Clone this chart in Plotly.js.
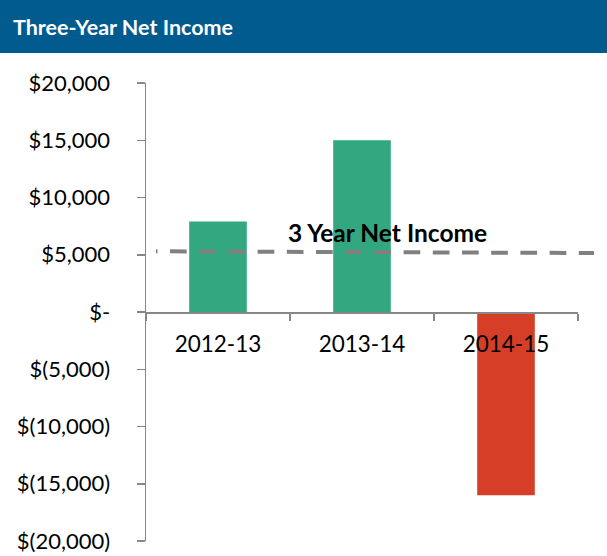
<!DOCTYPE html>
<html>
<head>
<meta charset="utf-8">
<script src="https://cdn.plot.ly/plotly-3.0.1.min.js"></script>
<style>html,body{margin:0;padding:0;background:#fff;}#chart{width:607px;height:556px;}</style>
</head>
<body>
<div id="chart"></div>
<script>
// Data
var years = ["2012-13", "2013-14", "2014-15"];
var netIncome = [7900, 15000, -16000];
var barColors = ["#33A880", "#33A880", "#D63E27"];
var avgX = [0, 1];
var avgY = [5300, 5150];
var avgLabel = "3 Year Net Income";
var yTickVals = [20000, 15000, 10000, 5000, 0, -5000, -10000, -15000, -20000];
var yTickText = ["$20,000", "$15,000", "$10,000", "$5,000", "$-", "$(5,000)", "$(10,000)", "$(15,000)", "$(20,000)"];
var chartTitle = "Three-Year Net Income";

// dash pattern: small dot, then repeating dashes
var dashParts = ["1.5px", "12.5px"];
for (var i = 0; i < 16; i++) { dashParts.push("16.7px", "12.5px"); }
var dashStr = dashParts.join(",");

var font = "Lato, 'Open Sans', sans-serif";

var traces = [
  {
    type: "bar",
    x: years,
    y: netIncome,
    marker: {color: barColors},
    xaxis: "x",
    yaxis: "y",
    hoverinfo: "none"
  },
  {
    type: "scatter",
    mode: "lines",
    x: avgX,
    y: avgY,
    line: {color: "#808080", width: 4, dash: dashStr},
    xaxis: "x2",
    yaxis: "y",
    hoverinfo: "none"
  }
];

var layout = {
  width: 607,
  height: 556,
  margin: {l: 146, r: 13, t: 83, b: 15},
  paper_bgcolor: "#ffffff",
  plot_bgcolor: "rgba(0,0,0,0)",
  showlegend: false,
  bargap: 0.6,
  font: {family: font, color: "#000000", size: 22},
  title: {
    text: "<b>" + chartTitle + "</b>",
    font: {family: font, color: "#ffffff", size: 21.5},
    x: 13 / 607, xanchor: "left", xref: "container",
    y: 1 - 27.5 / 556, yanchor: "middle", yref: "container"
  },
  shapes: [{
    type: "rect", xref: "paper", yref: "paper",
    x0: -146 / 448, x1: 1 + 13 / 448,
    y0: 1 + 30 / 458, y1: 1 + 83 / 458,
    fillcolor: "#015B8F", line: {width: 0}, layer: "below"
  }],
  xaxis: {
    type: "category",
    domain: [0, 432 / 448],
    range: [-0.5, 2.5],
    anchor: "free",
    position: 0.5,
    showline: true,
    linecolor: "#878787",
    linewidth: 1.5,
    ticks: "outside",
    tickson: "boundaries",
    ticklen: 7,
    tickwidth: 1.5,
    tickcolor: "#878787",
    showgrid: false,
    zeroline: false,
    tickfont: {family: font, size: 22.5, color: "#000000"},
    ticklabelstandoff: 11,
    fixedrange: true
  },
  xaxis2: {
    domain: [0, 1],
    range: [-10 / 438, 1],
    anchor: "y",
    visible: false,
    showgrid: false,
    zeroline: false,
    fixedrange: true
  },
  yaxis: {
    domain: [0, 1],
    range: [-20000, 20000],
    anchor: "x",
    tickvals: yTickVals,
    ticktext: yTickText,
    showline: true,
    linecolor: "#878787",
    linewidth: 1.5,
    ticks: "outside",
    ticklen: 8,
    tickwidth: 1.5,
    tickcolor: "#878787",
    showgrid: false,
    zeroline: false,
    tickfont: {family: font, size: 22, color: "#000000"},
    ticklabelstandoff: 22,
    fixedrange: true
  },
  annotations: [{
    text: "<b>" + avgLabel + "</b>",
    xref: "paper", yref: "paper",
    x: (387 - 146) / 448, y: (541 - 232) / 458,
    xanchor: "center", yanchor: "middle",
    showarrow: false,
    font: {family: font, size: 24.5, color: "#000000"}
  }]
};

Plotly.newPlot("chart", traces, layout, {displayModeBar: false, staticPlot: true});
</script>
</body>
</html>
